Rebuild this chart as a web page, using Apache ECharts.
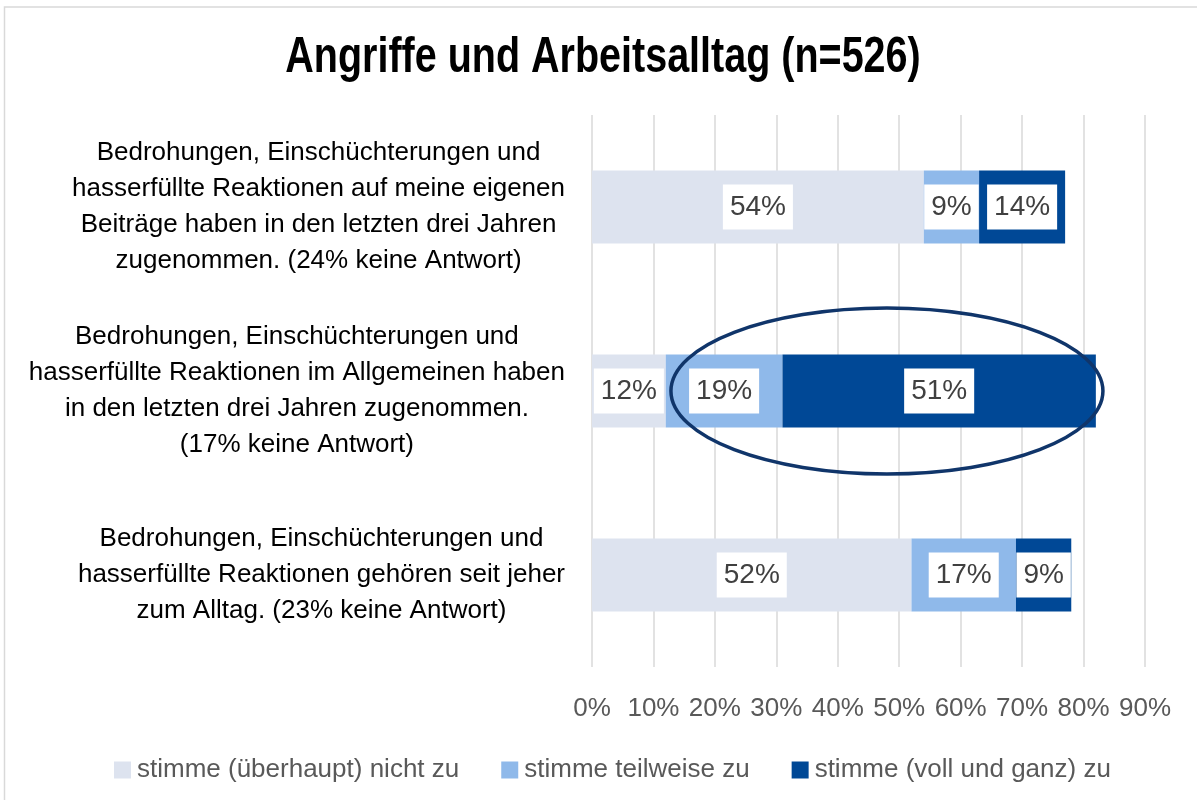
<!DOCTYPE html>
<html>
<head>
<meta charset="utf-8">
<script src="https://cdn.jsdelivr.net/npm/echarts@6/dist/echarts.min.js"></script>
<style>
  html, body { margin: 0; padding: 0; background: #fff; }
  #chart { width: 1197px; height: 800px; }
</style>
</head>
<body>
<div id="chart"></div>
<script>
// Daten
var categories = [
  'Bedrohungen, Einschüchterungen und\nhasserfüllte Reaktionen auf meine eigenen\nBeiträge haben in den letzten drei Jahren\nzugenommen. (24% keine Antwort)',
  'Bedrohungen, Einschüchterungen und\nhasserfüllte Reaktionen im Allgemeinen haben\nin den letzten drei Jahren zugenommen.\n(17% keine Antwort)',
  'Bedrohungen, Einschüchterungen und\nhasserfüllte Reaktionen gehören seit jeher\nzum Alltag. (23% keine Antwort)'
];
var seriesNames = ['stimme (überhaupt) nicht zu', 'stimme teilweise zu', 'stimme (voll und ganz) zu'];
var nichtZu = [54, 12, 52];
var teilweise = [9, 19, 17];
var vollGanz = [14, 51, 9];
var colors = ['#dde3ef', '#8fb9ea', '#004896'];
var titleText = 'Angriffe und Arbeitsalltag (n=526)';

var font = "'Liberation Sans', Arial, sans-serif";
var chart = echarts.init(document.getElementById('chart'));

function barSeries(name, data, color) {
  return {
    name: name,
    type: 'bar',
    stack: 'total',
    barWidth: 73,
    data: data,
    itemStyle: { color: color },
    label: {
      show: true,
      position: 'inside',
      formatter: '{c}%',
      fontFamily: font,
      fontSize: 28,
      color: '#404040',
      backgroundColor: '#fff',
      padding: [9, 7, 8, 7]
    }
  };
}

var option = {
  animation: false,
  color: colors,
  legend: {
    bottom: 12,
    left: 109,
    itemWidth: 17,
    itemHeight: 17,
    itemGap: 42,
    icon: 'rect',
    textStyle: { fontFamily: font, fontSize: 26, color: '#595959', padding: [0, 0, 0, 1] },
    data: seriesNames
  },
  grid: { left: 592, right: 52, top: 115, bottom: 133 },
  xAxis: {
    type: 'value',
    min: 0,
    max: 90,
    interval: 10,
    axisLine: { show: false },
    axisTick: { show: false },
    splitLine: { lineStyle: { color: '#d9d9d9', width: 1.5 } },
    axisLabel: { formatter: '{value}%', fontFamily: font, fontSize: 26, color: '#595959', margin: 29 }
  },
  yAxis: {
    type: 'category',
    inverse: true,
    data: categories,
    axisLine: { show: false },
    axisTick: { show: false },
    axisLabel: {
      margin: 27,
      align: 'right',
      formatter: function (v) {
        return v.split('\n').map(function (l) { return '{a|' + l + '}'; }).join('\n');
      },
      rich: { a: { fontFamily: font, fontSize: 26, lineHeight: 36, color: '#000', align: 'center' } }
    }
  },
  series: [
    barSeries(seriesNames[0], nichtZu, colors[0]),
    barSeries(seriesNames[1], teilweise, colors[1]),
    barSeries(seriesNames[2], vollGanz, colors[2])
  ]
};
chart.setOption(option);

// Titel (schmal gesetzt), Ellipse um die mittlere Zeile, Rahmen
var c = chart.convertToPixel({ gridIndex: 0 }, [48, 1]);
chart.setOption({
  graphic: [
    {
      type: 'rect',
      shape: { x: 4.5, y: 7, width: 1300, height: 900 },
      style: { fill: null, stroke: '#d9d9d9', lineWidth: 1.5 },
      silent: true
    },
    {
      type: 'text',
      x: 603,
      y: 58,
      scaleX: 0.79,
      style: {
        text: titleText,
        fontFamily: font,
        fontSize: 50,
        fontWeight: 'bold',
        fill: '#000',
        align: 'center',
        verticalAlign: 'middle'
      },
      silent: true
    },
    {
      type: 'ellipse',
      shape: { cx: c[0], cy: c[1], rx: 216, ry: 83 },
      style: { fill: null, stroke: '#10356a', lineWidth: 3.5 },
      z: 100,
      silent: true
    }
  ]
});
</script>
</body>
</html>
